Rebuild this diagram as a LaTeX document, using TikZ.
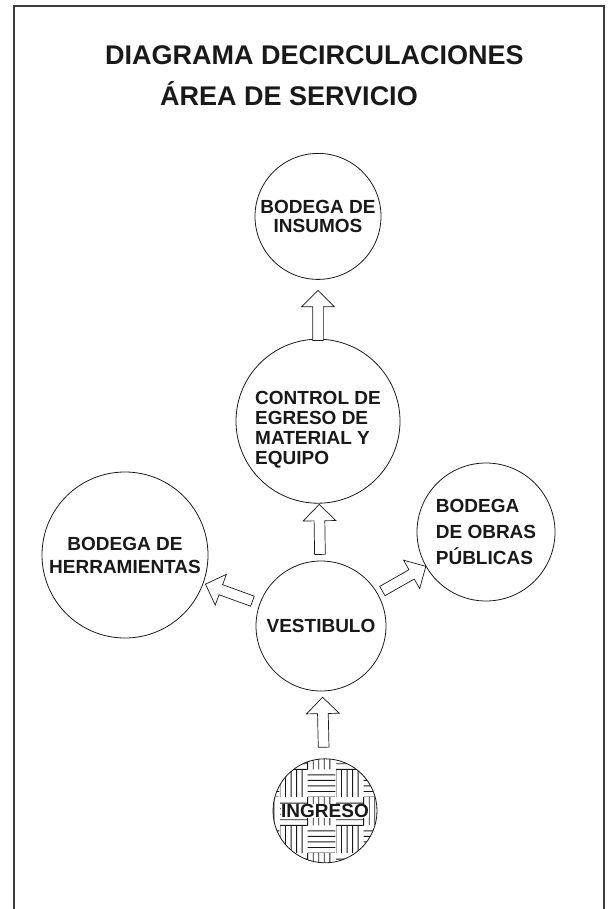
\documentclass[tikz,border=0pt]{standalone}
\usepackage{fontspec}
\setmainfont{Liberation Sans}
\usetikzlibrary{shapes.arrows, positioning, patterns}
\definecolor{ink}{RGB}{25, 25, 25}
\definecolor{framegray}{RGB}{60, 60, 60}
% basket weave: two cells of vertical lines, two of horizontal lines
\pgfdeclarepatternformonly{basketweave}{\pgfpointorigin}{\pgfqpoint{56pt}{56pt}}{\pgfqpoint{56pt}{56pt}}{
  \pgfsetlinewidth{0.9pt}
  \foreach \k in {0,...,4} {
    \pgfpathmoveto{\pgfpoint{\k*5.6pt}{0pt}}
    \pgfpathlineto{\pgfpoint{\k*5.6pt}{28pt}}
    \pgfpathmoveto{\pgfpoint{28pt+\k*5.6pt}{28pt}}
    \pgfpathlineto{\pgfpoint{28pt+\k*5.6pt}{56pt}}
    \pgfpathmoveto{\pgfpoint{28pt}{\k*5.6pt}}
    \pgfpathlineto{\pgfpoint{56pt}{\k*5.6pt}}
    \pgfpathmoveto{\pgfpoint{0pt}{28pt+\k*5.6pt}}
    \pgfpathlineto{\pgfpoint{28pt}{28pt+\k*5.6pt}}
  }
  \pgfusepath{stroke}
}
\tikzset{
  font=\bfseries,
  roomblock/.style={
    circle, draw=ink, line width=0.8pt, inner sep=0pt, text=ink,
    font=\fontsize{19}{20}\selectfont\bfseries
  },
  entryblock/.style={
    roomblock, preaction={fill=white}, pattern=basketweave, pattern color=ink
  },
  entrylabel/.style={
    fill=white, inner sep=0.5pt, text=ink, font=\fontsize{19}{20}\selectfont\bfseries
  },
  flowarrow/.style={
    single arrow, draw=ink, fill=white, line width=0.7pt,
    minimum height=50pt, inner sep=5pt, single arrow head extend=11pt,
    sloped, allow upside down
  },
  titletext/.style={font=\fontsize{27}{41}\selectfont\bfseries, text=ink, inner sep=0pt}
}

\begin{document}
\begin{tikzpicture}[x=1pt, y=-1pt]
  \useasboundingbox (0,0) rectangle (608,909);

  % Frame, open at the bottom
  \draw[framegray, line width=2pt] (14,909) -- (14,6) -- (604,6) -- (604,909);

  % Title
  \node[titletext, anchor=base west] (title) at (105,65) {DIAGRAMA DECIRCULACIONES};
  \node[titletext, anchor=base west] (subtitle) at (160,106) {ÁREA DE SERVICIO};

  % Hub: vestibulo
  \node[roomblock, minimum size=130pt] (vest) at (321,626) {VESTIBULO};

  % Control de egreso
  \node[roomblock, minimum size=164pt, align=left, above=57pt of vest, xshift=-3pt] (ctrl) {
    \rule{0pt}{30pt}CONTROL DE\\
    EGRESO DE\\
    MATERIAL Y\\
    EQUIPO
  };

  % Bodega de insumos
  \node[roomblock, minimum size=126pt, align=center, above=59pt of ctrl,
        font=\fontsize{19}{19}\selectfont\bfseries] (ins) {BODEGA DE\\INSUMOS};

  % Bodega de herramientas
  \node[roomblock, minimum size=166pt, align=center,
        font=\fontsize{19}{23}\selectfont\bfseries] (herr) at (125,555) {BODEGA DE\\HERRAMIENTAS};

  % Bodega de obras publicas
  \node[roomblock, minimum size=138pt, align=left,
        font=\fontsize{19}{26}\selectfont\bfseries] (obras) at (486,532) {BODEGA\\DE OBRAS\\PÚBLICAS};

  % Ingreso
  \node[entryblock, minimum size=104pt, below=67pt of vest, xshift=4pt,
        label={[entrylabel]center:INGRESO}] (ing) {};

  % Circulation arrows
  \path (ing) -- node[flowarrow] {} (vest);
  \path (vest) -- node[flowarrow] {} (ctrl);
  \path (ctrl) -- node[flowarrow, pos=0.35] {} (ins);
  \path (vest) -- node[flowarrow] {} (herr);
  \path (vest) -- node[flowarrow] {} (obras);
\end{tikzpicture}
\end{document}
